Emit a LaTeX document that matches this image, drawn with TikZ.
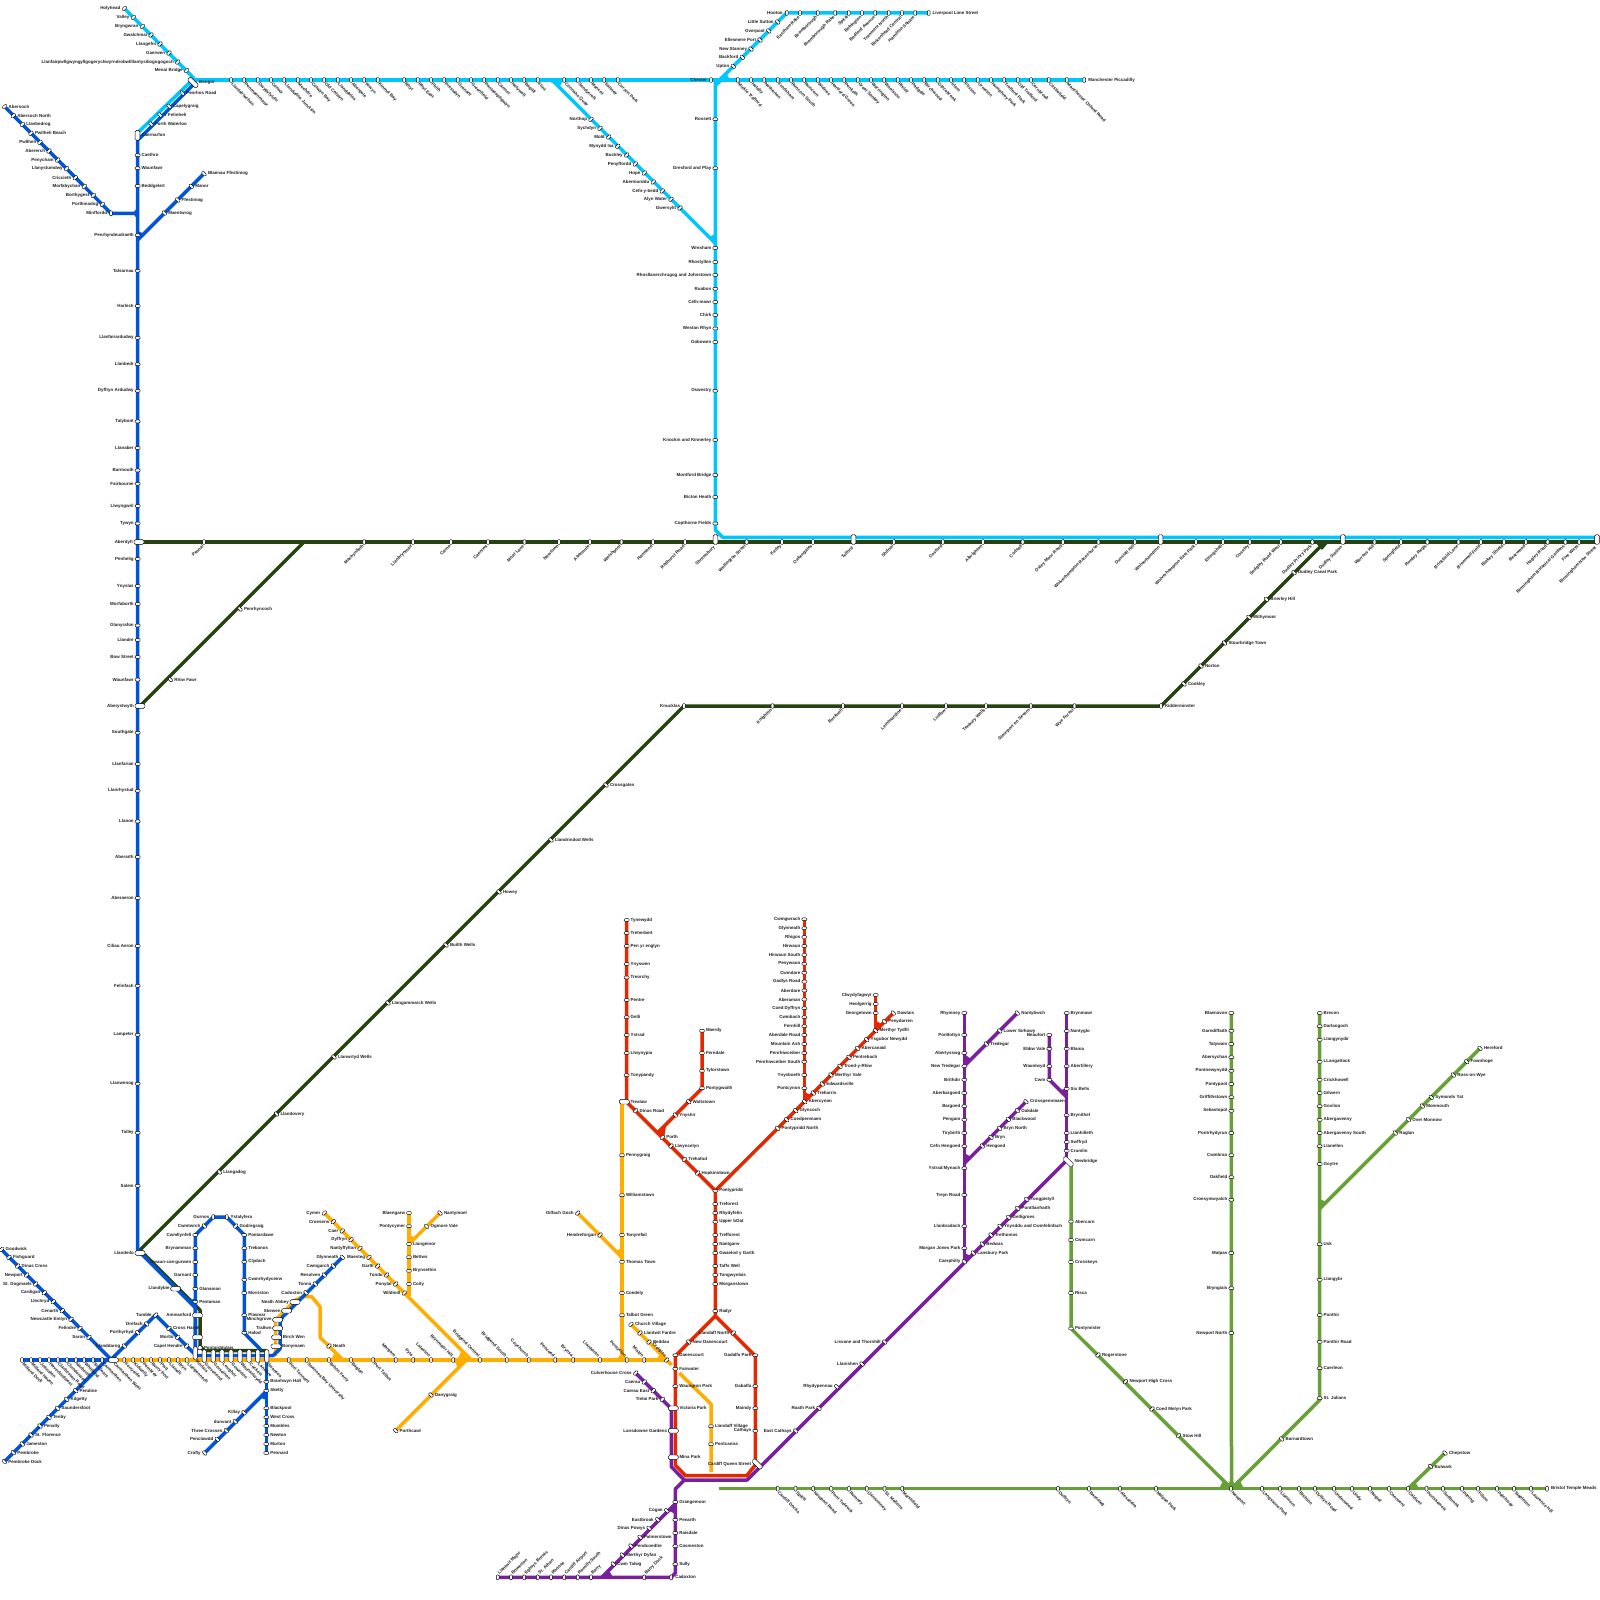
\documentclass[tikz,border=0pt]{standalone}
\usepackage{fontspec}
\setmainfont{Liberation Sans}
\definecolor{ccy}{HTML}{00C6FF}
\definecolor{cbl}{HTML}{0054D8}
\definecolor{cdg}{HTML}{254210}
\definecolor{cor}{HTML}{FFAD00}
\definecolor{cre}{HTML}{E62800}
\definecolor{cpu}{HTML}{7A209E}
\definecolor{cgr}{HTML}{68A038}
\tikzset{
 lne/.style={line width=3.5pt,line join=round,line cap=butt},
 cy/.style={lne,draw=ccy},bl/.style={lne,draw=cbl},dg/.style={lne,draw=cdg},
 or/.style={lne,draw=cor},re/.style={lne,draw=cre},pu/.style={lne,draw=cpu},gr/.style={lne,draw=cgr},
 stb/.style={draw=black,fill=white,line width=.45pt,rounded corners=1pt,inner sep=0pt},
 sh/.style={stb,minimum width=5pt,minimum height=2.8pt},
 sv/.style={stb,minimum width=2.8pt,minimum height=5pt},
 sb/.style={sh,rotate=45},
 sf/.style={sh,rotate=-45},
 Bh/.style={stb,minimum width=10pt,minimum height=4.6pt,rounded corners=1.5pt},
 Bv/.style={stb,minimum width=4.6pt,minimum height=10pt,rounded corners=1.5pt},
 Bb/.style={Bh,rotate=45,minimum width=12pt},
 Bf/.style={Bh,rotate=-45,minimum width=12pt},
 Tv/.style={stb,minimum width=4.2pt,minimum height=13pt,rounded corners=1.5pt},
 lbl/.style={inner sep=0pt,font=\fontsize{4.45}{4.45}\selectfont\bfseries,text=black!88},
}
\newcount\stc
\newcommand\lbr[3]{\node[lbl,anchor=west] (t\the\stc) at (#1+3.8,#2) {#3};}
\newcommand\lbl[3]{\node[lbl,anchor=east] (t\the\stc) at (#1-3.8,#2) {#3};}
\newcommand\lbR[3]{\node[lbl,anchor=west] (t\the\stc) at (#1+6,#2) {#3};}
\newcommand\lbL[3]{\node[lbl,anchor=east] (t\the\stc) at (#1-6,#2) {#3};}
\newcommand\lbdr[3]{\node[lbl,anchor=west,rotate=-45] (t\the\stc) at (#1+1,#2+3.4) {#3};}
\newcommand\lbul[3]{\node[lbl,anchor=east,rotate=-45] (t\the\stc) at (#1-1,#2-3.4) {#3};}
\newcommand\lbdl[3]{\node[lbl,anchor=east,rotate=45] (t\the\stc) at (#1-1,#2+3.4) {#3};}
\newcommand\lbur[3]{\node[lbl,anchor=west,rotate=45] (t\the\stc) at (#1+1,#2-3.4) {#3};}
\newcommand\lbt[3]{\node[lbl,anchor=west,rotate=-45] (t\the\stc) at (#1+1,#2+7.5) {#3};}
\newcommand\lbn[3]{\node[lbl,anchor=east,rotate=45] (t\the\stc) at (#1-1,#2+7.5) {#3};}
\newcommand\stn[5]{\global\advance\stc by 1\relax
 \node[#1] (s\the\stc) at (#2,#3) {};
 \csname lb#4\endcsname{#2}{#3}{#5}}
\newcommand\row[3]{\foreach \xx/\yy/\lab in {#3}{\stn{#1}{\xx}{\yy}{#2}{\lab}}}
\newcommand\wdg[4]{\fill[#1] #2 -- #3 -- #4 -- cycle;}
\begin{document}
\begin{tikzpicture}[x=1pt,y=-1pt]
\useasboundingbox (0,0) rectangle (1600,1600);
\fill[white] (0,0) rectangle (1600,1600);
% ---- way points
\foreach \n/\a/\b in {
 hly/124.3/8.3,bng/194/78.5,cy1/138.5/132,bnw/193/80,mnc/1084.3/80,cjn/719.7/80,hoo/786.7/13,lls/928.7/13,
 wj/552/80,wrx/715.3/243.3,chv/715.3/80,cyc/715.3/530,cyd/722.6/537.3,cye/1597/537.3,
 bb1/193/85,bb2/143/135,bb3/137.7/140,bb4/137.7/1250,bb5/195.3/1307.6,bb6/195.3/1356,
 lp1/195.3/1235,lp2/213.3/1217,lp3/226.7/1217,lp4/244.3/1235,lp5/244.3/1333,lp6/261/1350,
 bh1/195.3/1355.5,bh2/273/1355.5,bh3/280/1349,bh4/280/1322,bh5/282.5/1317,bh6/342.3/1257.3,
 abs/4.7/106.7,mff/111/213.3,mfj/137.7/213.3,bpj/137.7/240,bla/204/173.7,
 gdw/1/1249,gdj/111.7/1360,mil/22/1360,cmw/113.3/1360,pbd/4.3/1461.7,pbj/106.4/1360,
 tuj/110.5/1360,tum/155.7/1315,tue/195.3/1354.6,swj/266.3/1356,pen/266.3/1453,cro/204.7/1453,skt/266.3/1391.4,
 aby/138/542,bhm/1597/542,dj1/304/542,ayw/140/706,kid/1161/706,dj2/1322/545,dj3/1326/542,knu/684/706,
 lld/140/1250,dg1/197/1307,dg2/200/1310,dg3/200/1346,dg4/204/1350.5,dg5/266.7/1350.5,
 ormr/668/1360,orb/631/1324.3,ore/671.7/1365,orc/679.3/1373,ord/711/1404,orf/711/1472,
 trv/622/1101.7,trw/622/1360,gil/577.7/1213,gij/622/1257.3,cym/324.3/1213,brd/471.3/1360,
 bga/409/1213,bgb/409/1296,nan/440/1213,nnj/409/1244,pcw/395.7/1430.7,pcj/466.4/1360,
 ne1/275.7/1356,ne2/275.7/1320,ne3/296/1299.7,ne4/303.3/1296.7,ne5/311.7/1296.7,ne6/320/1306.7,ne7/320/1337.3,ne8/343/1360,
 r1/626.7/920,r2/626.7/1102,r3/715.3/1190.6,r4/715.3/1316,r5/675.3/1356,r6/675.3/1465,r7/685.5/1475.7,r8/746.7/1475.7,r9/755.3/1465,r10/755.3/1356,
 f1/702/1030.7,f2/702/1088.3,f3/657.7/1132.7,dow/893.3/1013,abv/804.3/919.3,abj/804.3/1102,cly/875.7/995,mrt/875.7/1030.7,
 p1/635.7/1373,p2/671.3/1408.6,p3/671.3/1466.7,p4/684.3/1480,p5/747/1480,p6/1065.5/1161.5,
 p7/675.3/1489,p8/675.3/1573,p9/671.3/1577.3,p10/497.7/1577.3,p11/601.7/1577.3,p12/675.3/1503.7,
 ry1/964.3/1013,ry2/964.3/1263,ry3/1017.3/1013,ry4/966/1064.3,ry5/1026/1101.7,ry6/964.3/1163.4,
 ew1/1049.3/1035,ew2/1049.3/1079.7,ew3/1066.7/1097,ew4/1066.7/1013,ew5/1066.7/1161,
 g1/1071/1165,g2/1071/1328.5,g3/1231.5/1488.7,g4/719.4/1488.7,g5/1547/1488.7,g6/1231.3/1013,g7/1319.7/1013,g8/1319.7/1400,
 g9/1480/1048.3,g10/1319.7/1208.6,g11/1408/1488.7,g12/1445/1453}
 {\coordinate (\n) at (\a,\b);}
% ---- lines
\draw[dg] (aby)--(bhm);
\draw[dg] (dj1)--(ayw);
\draw[dg] (knu)--(kid)--(dj2)--(dj3);
\draw[dg] (knu)--(lld)--(dg1)--(dg2)--(dg3)--(dg4)--(dg5);
\draw[cy] (hly)--(bng)--(cy1);
\draw[cy] (bnw)--(mnc);
\draw[cy] (cjn)--(hoo)--(lls);
\draw[cy] (wj)--(wrx);
\draw[cy] (chv)--(cyc)--(cyd)--(cye);
\draw[gr] (g1)--(g2)--(g3);
\draw[gr] (g4)--(g5);
\draw[gr] (g6)--(g3);
\draw[gr] (g7)--(g8)--(g3);
\draw[gr] (g9)--(g10);
\draw[gr] (g11)--(g12);
\draw[or] (cmw)--(ormr);
\draw[or] (orb)--(ore);
\draw[or] (orc)--(ord)--(orf);
\draw[or] (trv)--(trw);
\draw[or] (gil)--(gij);
\draw[or] (cym)--(brd);
\draw[or] (bga)--(bgb);
\draw[or] (nan)--(nnj);
\draw[or] (pcw)--(pcj);
\draw[or] (ne1)--(ne2)--(ne3)--(ne4)--(ne5)--(ne6)--(ne7)--(ne8);
\draw[bl] (bb1)--(bb2)--(bb3)--(bb4)--(bb5)--(bb6);
\draw[bl] (bb6)--(lp1)--(lp2)--(lp3)--(lp4)--(lp5)--(lp6);
\draw[bl] (bh1)--(bh2)--(bh3)--(bh4)--(bh5)--(bh6);
\draw[bl] (abs)--(mff)--(mfj);
\draw[bl] (bpj)--(bla);
\draw[bl] (gdw)--(gdj);
\draw[bl] (mil)--(cmw);
\draw[bl] (pbd)--(pbj);
\draw[bl] (tuj)--(tum)--(tue);
\draw[bl] (swj)--(pen);
\draw[bl] (cro)--(skt);
\draw[pu] (p1)--(p2)--(p3)--(p4)--(p5)--(p6);
\draw[pu] (p4)--(p7)--(p8)--(p9)--(p10);
\draw[pu] (p11)--(p12);
\draw[pu] (ry1)--(ry2);
\draw[pu] (ry3)--(ry4);
\draw[pu] (ry5)--(ry6);
\draw[pu] (ew1)--(ew2)--(ew3);
\draw[pu] (ew4)--(ew5);
\draw[re] (r1)--(r2)--(r3)--(r4)--(r5)--(r6)--(r7)--(r8)--(r9)--(r10)--(r4);
\draw[re] (f1)--(f2)--(f3);
\draw[re] (r3)--(dow);
\draw[re] (abv)--(abj);
\draw[re] (cly)--(mrt);
% ---- junction wedges
\wdg{cbl}{(133,213.3)}{(137.7,207)}{(137.7,219.5)}
\wdg{cbl}{(137.7,240)}{(137.7,231)}{(144,233.7)}
\wdg{cbl}{(195.3,1307.6)}{(195.3,1298)}{(189,1301)}
\wdg{cbl}{(266.3,1391.4)}{(266.3,1400)}{(260,1397.5)}
\wdg{cor}{(343,1360)}{(331,1360)}{(335,1352)}
\wdg{cor}{(469,1360)}{(457,1360)}{(461,1352)}
\wdg{cor}{(466,1360)}{(454,1360)}{(458,1368)}
\wdg{cor}{(409,1244)}{(409,1235)}{(415.5,1237.5)}
\wdg{cor}{(622,1257.3)}{(622,1248)}{(615.5,1251)}
\wdg{cor}{(616,1360)}{(622,1353)}{(628,1360)}
\wdg{cor}{(667,1360)}{(656,1360)}{(660,1354)}
\wdg{ccy}{(715.3,243.3)}{(715.3,234)}{(709,237)}
\wdg{ccy}{(719.7,80)}{(730,80)}{(726.5,73.5)}
\wdg{ccy}{(715,80)}{(715,88)}{(724,80)}
\wdg{ccy}{(552,80)}{(563,80)}{(559.5,87)}
\wdg{ccy}{(545,80)}{(560,80)}{(555,84)}
\wdg{cre}{(657,1131)}{(666,1126)}{(664,1139)}
\wdg{cre}{(804.3,1102)}{(804.3,1092)}{(811,1095)}
\wdg{cre}{(875.7,1030.7)}{(875.7,1021)}{(882,1024)}
\wdg{cpu}{(964.3,1064)}{(964.3,1054)}{(971,1059)}
\wdg{cpu}{(964.3,1163.4)}{(964.3,1153)}{(971,1157)}
\wdg{cpu}{(964.3,1263)}{(964.3,1253)}{(971,1256)}
\wdg{cpu}{(1066.7,1097)}{(1066.7,1088)}{(1060,1090.5)}
\wdg{cpu}{(675.3,1503.7)}{(675.3,1514)}{(668.5,1510.5)}
\wdg{cpu}{(601.7,1577.3)}{(613,1577.3)}{(609,1570.5)}
\wdg{cgr}{(1319.7,1208.6)}{(1319.7,1199)}{(1326.5,1202)}
\wdg{cgr}{(1231.3,1488.7)}{(1219,1488.7)}{(1223,1481)}
\wdg{cgr}{(1231.3,1488.7)}{(1244,1488.7)}{(1240,1481)}
\wdg{cgr}{(1231.3,1479)}{(1225,1488.7)}{(1238,1488.7)}
\wdg{cgr}{(1408,1488.7)}{(1419,1488.7)}{(1415,1481.5)}
\wdg{cdg}{(1315,542)}{(1329,542)}{(1322,550)}
% ---- stations: north coast
\row{sb}{l}{124.3/8.3/Holyhead,133.3/17.3/Valley,142.3/26.3/Bryngwran,151/35/Gwalchmai,160/44/Llangefni,169/53/Gaerwen,177.7/62/Llanfairpwllgwyngyllgogerychwyrndrobwllllantysiliogogogoch,186.7/70.7/Menai Bridge}
\stn{Bf}{193}{82.5}{R}{Bangor}
\row{sv}{dr}{231/80/Llanfairfechan,244.3/80/Penmaenmawr,257.7/80/Dwygyfylchi,271/80/Conwy,284.3/80/Llandudno Junction,297.7/80/Mochdre,311/80/Colwyn Bay,324.3/80/Old Colwyn,337.7/80/Llanddulas,351/80/Abergele,364.3/80/Towyn,377.7/80/Kinmel Bay,404.3/80/Rhyl,417.7/80/Rhyl East,431/80/Ffrith,444.3/80/Prestatyn,457.7/80/Gronant,471/80/Greenfield,484.3/80/Pantasaphgwyn,497.7/80/Carmel,511/80/Holywell,524.3/80/Bagillt,537.7/80/Flint,564.3/80/Connahs Quay,577.7/80/Sandycroft,591/80/Mancot,604.3/80/Saltney,617.7/80/Curzon Park}
\stn{sv}{711}{80}{l}{Chester}
\row{sv}{dr}{737.7/80/Mickle Trafford,751/80/Helsby,764.3/80/Netherton,777.7/80/Frodsham,791/80/Runcorn South,804.3/80/Runcorn,817.7/80/Widnes,831/80/Hartford Green,844.3/80/Penketh,857.7/80/Great Sankey,871/80/Warrington,884.3/80/Woolston,897.7/80/Risley,911/80/Padgate,924.3/80/Birchwood,937.7/80/Glazebrook,951/80/Irlam,964.3/80/Flixton,977.7/80/Urmston,991/80/Humphrey Park,1004.3/80/Trafford Park,1017.7/80/Old Trafford,1031/80/Cornbrook,1048.7/80/Castlefield,1066.7/80/Manchester Oxford Road}
\stn{sv}{1084.3}{80}{r}{Manchester Piccadilly}
\stn{sv}{786.7}{13}{l}{Hooton}
\row{sf}{l}{777.7/22/Little Sutton,768.7/31/Overpool,760/40/Ellesmere Port,751/49/New Stanney,742.3/57.3/Backford,733.3/66.3/Upton}
\row{sv}{dl}{800/13/Eastham Rake,817.7/13/Bromborough,835.3/13/Bromborough Rake,848.7/13/Spital,862/13/Bebington,875.3/13/Bedford Avenue,888.7/13/Tranmere North,902/13/Birkenhead Central,915.3/13/Hamilton Square}
\stn{sv}{928.7}{13}{r}{Liverpool Lime Street}
\row{sb}{l}{591/119.3/Northop,600/128.3/Sychdyn,608.7/137/Mold,617.7/146.3/Mynydd Isa,626.7/155/Buckley,635.3/164/Penyffordd,644.3/173/Hope,653.3/182/Abermorddu,662.3/191/Cefn-y-bedd,671/199.3/Alyn Water,680/208/Gwersyllt}
\row{sh}{l}{715.3/119.3/Rossett,715.3/168.3/Gresford and Play,715.3/248/Wrexham,715.3/262/Rhostyllen,715.3/275/Rhosllanerchrugog and Johnstown,715.3/288.7/Ruabon,715.3/302/Cefn-mawr,715.3/315/Chirk,715.3/328.5/Weston Rhyn,715.3/342/Gobowen,715.3/390.8/Oswestry,715.3/440/Knockin and Kinnerley,715.3/475/Montford Bridge,715.3/497/Bicton Heath,715.3/523.5/Copthorne Fields}
% ---- Cardigan Bay
\row{sb}{r}{4.7/106.7/Abersoch,13.3/115.7/Abersoch North,22.3/124.3/Llanbedrog,31/133.3/Pwllheli Beach}
\row{sb}{l}{40/142.3/Pwllheli,49/151/Abererch,57.7/160/Penychain,66.7/168.7/Llanystumdwy,75.3/177.7/Criccieth,84.3/186.3/Morfabychan,93.3/195.3/Borthygest,102.3/204.3/Porthmadog}
\stn{sv}{111}{213.3}{l}{Minffordd}
\row{sf}{r}{182.3/93/Penrhos Road,169/106.3/Capelygraig,160/115/Y Felinheli,151/124/Porth Waterloo,204/173.7/Blaenau Ffestiniog,191.3/186.3/Manor,177.7/200/Ffestiniog,164.3/213/Maentwrog}
\stn{Bv}{137.5}{135.3}{r}{Caernarfon}
\row{sh}{r}{137.7/155.3/Caethro,137.7/168.3/Waunfawr,137.7/186/Beddgelert}
\row{sh}{l}{137.7/235.3/Penrhyndeudraeth,137.7/270.7/Talsarnau,137.7/306/Harlech,137.7/337.7/Llanfairardudwy,137.7/364.3/Llanbedr,137.7/390.8/Dyffryn Ardudwy,137.7/421.4/Talybont,137.7/448/Llanaber,137.7/470.4/Barmouth,137.7/483.7/Fairbourne,137.7/506/Llwyngwril,137.7/523.5/Tywyn,137.7/559/Penhelig,137.7/586/Ynyslas,137.7/604/Morfaborth,137.7/625.5/Glanyrafon,137.7/640/Llandre,137.7/657/Bow Street,137.7/679.6/Waunfawr,137.7/732.7/Southgate,137.7/764/Llanfarian,137.7/790.8/Llanrhystud,137.7/821.4/Llanon,137.7/857/Aberarth,137.7/898/Aberaeron,137.7/946/Ciliau Aeron,137.7/985.7/Felinfach,137.7/1034.7/Lampeter,137.7/1083.7/Llanwenog,137.7/1132.7/Talley,137.7/1185.7/Salem}
\stn{Bh}{139}{542}{L}{Aberdyfi}
\stn{Bh}{140}{706}{L}{Aberystwyth}
\stn{Bh}{140}{1253}{L}{Llandeilo}
\row{sf}{r}{240/609/Penrhyncoch,170.4/679.6/Rhiw Fawr}
% ---- Dark green main
\row{sv}{dl}{204/542/Pennal,364.3/542/Machynlleth,413/542/Llanbrynmair,451/542/Carno,488/542/Caersws,524.5/542/Moat Lane,559/542/Newtown,590/542/Abermule,621.5/542/Welshpool,653/542/Hanwood,685/542/Redhurst Road,746.6/542/Wellington Street,782/542/Ketley,813/542/Oakengates,893.8/542/Shifnal,942.7/542/Cosford,983/542/Albrighton,1022.6/542/Codsall,1062.9/542/Oxley Moor Road,1098.5/542/Wolverhampton Racecourse,1134.7/542/Dunstall Hill,1196/542/Wolverhampton East Park,1223/542/Ettingshall,1249.7/542/Coseley,1280.8/542/Sedgley Road West,1312.4/542/Dudley Priory Park,1374.5/542/Warrens Hill,1401/542/Springfield,1427.4/542/Rowley Regis,1458.5/542/Brickfield Lane,1480.9/542/Bromwell Field,1504/542/Blakey Shield,1525.8/542/Bearwood,1547.6/542/Hagley Road,1565.4/542/Birmingham Botanical Gardens,1579.2/542/Five Ways}
\row{Bv}{n}{715.5/539.5/Shrewsbury,853.5/539.5/Telford,1160.6/539.5/Wolverhampton,1342.9/539.5/Dudley Station,1597/539.5/Birmingham New Street}
\row{sf}{r}{1294/572.7/Dudley Canal Park,1266.4/599.3/Brierley Hill,1249/617.3/Withymoor,1224.5/643/Stourbridge Town,1201/666/Norton,1184/684/Cookley}
\stn{sv}{1161}{706}{r}{Kidderminster}
\stn{sv}{684}{706}{l}{Knucklas}
\row{sv}{dl}{772.5/706/Knighton,843/706/Bucknell,902/706/Leintwardine,946/706/Ludlow,986/706/Tenbury Wells,1030.7/706/Stourport on Severn,1074.5/706/Wye Forest}
\row{sf}{r}{606/785/Crossgates,551/840/Llandrindod Wells,499/892/Howey,446/945/Builth Wells,388/1003/Llangammarch Wells,334/1057/Llanwrtyd Wells,276.5/1114/Llandovery,219.4/1172/Llangadog}
% ---- Pembrokeshire & Carmarthen
\row{sb}{r}{1.7/1249.3/Goodwick,9/1257.3/Fishguard,17.7/1266/Dinas Cross}
\row{sb}{l}{26.7/1275/Newport,35.7/1284/St. Dogmaels,44.3/1292.7/Cardigan,53.3/1301.7/Llechryd,62.3/1310.7/Cenarth,71/1319.3/Newcastle Emlyn,80/1328.3/Felindre,89/1337.3/Saron}
\row{sf}{r}{75.7/1390.7/Pendine,66.7/1399.3/Kilgetty,57.7/1408.3/Saundersfoot,49/1417.3/Tenby,40/1426/Penally,31/1435/St. Florence,22.3/1444/Jameston,13.3/1452.7/Pembroke,4.3/1461.7/Pembroke Dock}
\row{sf}{l}{124.3/1346/Llanddarog,137.7/1332.7/Porthyrhyd,146.7/1324/Drefach}
\stn{sb}{155.7}{1315}{l}{Tumble}
\stn{sb}{169}{1328.3}{r}{Cross Hands}
\row{sb}{l}{177.7/1337.3/Mortlo,186.7/1346/Capel Hendre}
\row{sv}{dr}{22/1360/Milford Dock,31/1360/Milford Haven,40/1360/Johnston,49/1360/Haverfordwest,57.7/1360/Clarbeston Road,66.7/1360/Clunderwen,75.7/1360/Narberth,84.3/1360/Whitland,93.3/1360/St Clears,102.3/1360/Carmarthen}
\stn{Bh}{113.3}{1360}{dr}{Carmarthen West}
\row{sv}{dr}{124.3/1360/Ferryside,133.3/1360/Kidwelly,142.3/1360/Pembrey,151/1360/Burry Port,160/1360/Pwll,169/1360/Llanelli,177.7/1360/Bryn,186.7/1360/Llangennech}
\row{Tv}{t}{195.3/1353/Morlais,204.3/1356/Grovesend,213.3/1356/Gorseinon,222/1356/Loughor,231/1356/Gowerton,240/1356/Waunarlwydd,249/1356/Cockett,257.7/1356/Landore,266.7/1356/Swansea}
\stn{Bh}{197.5}{1315.3}{L}{Ammanford}
\node[Bh] (amx) at (197.5,1337.3) {};
\stn{Bh}{175.7}{1288.7}{L}{Llandybie}
\stn{stb,minimum width=4pt,minimum height=4pt}{200}{1347.7}{r}{Pontarddulais}
\row{sh}{r}{195.3/1288.7/Glanaman,195.3/1301.7/Pentaman,244.3/1235/Pontardawe,244.3/1248.3/Trebanos,244.3/1261.7/Clydach,244.3/1279.7/Cwmrhydyceirw,244.3/1293/Morriston,244.3/1315.3/Plasmar,244.3/1332.7/Hafod}
\row{sh}{l}{195.3/1235/Cwmllynfell,195.3/1248.3/Brynamman,195.3/1262/Gwaun-cae-gurwen,195.3/1275/Garnant}
\stn{sf}{204.3}{1226}{l}{Cwmtwrch}
\stn{sv}{213.3}{1217}{l}{Gurnos}
\stn{sv}{226.7}{1217}{r}{Ystalyfera}
\stn{sb}{235.7}{1226}{r}{Godregraig}
\row{sf}{l}{342.3/1257.3/Glynneath,333.3/1266/Cwmgarch,324.3/1275/Resolven,315.3/1284/Tonna,306/1292.7/Cadoxton}
\row{Bh}{L}{295/1302/Neath Abbey,286.7/1310.7/Skewen,277.7/1319.7/Minchgrove,277.7/1328.3/Trallwn}
\row{Bh}{R}{276.7/1337.3/Birch Wen,276/1346.3/Bonymaen}
\row{sh}{r}{266.3/1381.7/Branhwyn Hall,266.3/1390.7/Sketty,266.3/1408.3/Blackpool,266.3/1417.3/West Cross,266.3/1426/Mumbles,266.3/1435/Newton,266.3/1444/Murton,266.3/1453/Pennard}
\row{sf}{l}{244/1412.7/Killay,235.3/1421.7/dunvant,226.3/1430.7/Three Crosses,217.3/1439.3/Penclawdd,204.7/1453/Crofty}
\row{sv}{dr}{288.7/1360/Port Tennant,306.7/1360/Swansea Bay University,329/1360/Briton Ferry,351/1360/Baglan,373.3/1360/Port Talbot}
\stn{sb}{329}{1346}{r}{Neath}
\row{sv}{ul}{395.7/1360/Margam,413.3/1360/Pyle,431/1360/Laleston,453.3/1360/Brynmawr Hill,480/1360/Bridgend Central,506.7/1360/Bridgend South,528.7/1360/Coychurch,555.3/1360/Pencoed,573.3/1360/Brynsa,600/1360/Llanharan,626.7/1360/Pontyclun,644.3/1360/Miskin}
\stn{sb}{666.7}{1360}{ul}{Creigiau}
\row{sb}{r}{631/1324.3/Church Village,640/1333/Llantwit Fardre,649/1342/Beddau}
\row{sb}{l}{324.3/1213/Cymer,333.3/1221.7/Croeserw,342.3/1231/Caer,351/1239.7/Dyffryn,360/1248.3/Nantyffyllon,369/1257.3/Maesteg,377.7/1266/Garth,386.7/1275/Tondu,395.7/1284/Ponytal,404.3/1293/Wildmill}
\row{sh}{l}{409/1213/Blaengarw,409/1226.3/Pontycymer}
\row{sh}{r}{409/1244/Llangeinor,409/1257.3/Bettws,409/1270.7/Brynsethin,409/1284/Coity}
\row{sf}{r}{440/1213/Nantymoel,426.7/1226.3/Ogmore Vale,431/1395/Danygraig,395.7/1430.7/Porthcawl}
\row{sb}{l}{577.7/1213/Gilfach Goch,600/1235/Hendreforgan}
\stn{Bh}{624.3}{1101.7}{R}{Trealaw}
\row{sh}{r}{622/1155.3/Pennygraig,622/1195.3/Williamstown,622/1235/Tonyrefail,622/1261.7/Thomas Town,622/1293/Coedely,622/1315.3/Talbot Green}
\row{sh}{r}{711/1426.3/Llandaff Village,711/1444.3/Pontcanna}
% ---- Red
\row{sh}{r}{626.7/920/Tynewydd,626.7/933/Treherbert,626.7/946/Pen yr englyn,626.7/964/Ynyswen,626.7/977.5/Treorchy,626.7/1000/Pentre,626.7/1017.3/Gelli,626.7/1035/Ystrad,626.7/1053/Llwynypia,626.7/1075.3/Tonypandy}
\row{sb}{r}{635.7/1110.7/Dinas Road,662.3/1137.3/Porth,671/1146/Llwyncelyn,684.3/1159.3/Trehafod,697.7/1173/Hopkinstown}
\row{sh}{r}{702/1030.7/Maerdy,702/1053/Ferndale,702/1070.7/Tylorstown,702/1088.3/Pontygwaith,715.3/1190.7/Pontypridd,715.3/1204/Treforest,715.3/1213/Rhydyfelin,715.3/1221.7/Upper bOat,715.3/1235/Trefforest,715.3/1244/Nantgarw,715.3/1253/Gwaelod y Garth,715.3/1266/Taffs Well,715.3/1275/Tongwynlais,715.3/1284/Morganstown,715.3/1311/Radyr}
\row{sf}{r}{688.7/1101.7/Wattstown,675.3/1115/Ynyshir,777.7/1128.3/Pontypridd North,786.7/1119.7/Coedpenmaen,795.7/1110.7/Glyncoch,804.7/1101.7/Abercynon,813.3/1093/Treharris,822.3/1084/Edwardsville,831/1075/Merthyr Vale,840/1066.3/Troed-y-Rhiw,849/1057.3/Pentrebach,857.7/1048.3/Abercanaid,866.7/1039.7/Ysgubor Newydd,875.7/1030.7/Merthyr Tydfil,884.3/1021.7/Penydarren,893.3/1013/Dowlais}
\row{sh}{l}{804.3/919.3/Cwmgwrach,804.3/928.2/Glynneath,804.3/937.1/Rhigos,804.3/946/Hirwaun,804.3/954.9/Hirwaun South,804.3/963.8/Penywaun,804.3/972.7/Cwmdare,804.3/981.6/Gadlys Road,804.3/990.5/Aberdare,804.3/999.4/Aberaman,804.3/1008.3/Coed Dyffryn,804.3/1017.3/Cwmbach,804.3/1026.3/Fernhill,804.3/1035/Aberdale Road,804.3/1044/Mountain Ash,804.3/1053/Penrhiwceiber,804.3/1061.7/Penrhiwceiber South,804.3/1075/Ynysboeth,804.3/1088.3/Pontcynon,875.7/995/Clwydyfagwyr,875.7/1004/Heolgerrig,875.7/1013/Georgetown}
\stn{sf}{688.7}{1342}{r}{New Danescourt}
\stn{sb}{733.3}{1333}{l}{Llandaff North}
\row{sh}{r}{675.3/1355.3/Danescourt,675.3/1368.7/Fairwater,675.3/1386.3/Waungron Park}
\row{sh}{l}{755.3/1355.3/Gadalfa Park,755.3/1386.3/Gabalfa,755.3/1408.3/Maindy,755.3/1430.7/Cathays}
\row{Bh}{R}{673.3/1408.3/Victoria Park,673.3/1457.3/Mina Park}
\stn{Bh}{673.3}{1430.7}{L}{Lansdowne Gardens}
\stn{Bf}{757.3}{1464}{L}{Cardiff Queen Street}
% ---- Purple
\row{sb}{l}{635.7/1373/Culverhouse Cross,644.3/1382/Caerau,653.3/1390.7/Caerau East,662.3/1399.3/Trelai Park}
\row{sf}{l}{884.7/1342/Lisvane and Thornhill,862/1364/Llanishen,836.7/1386.7/Rhydypennau,819/1408.3/Roath Park,795.7/1431/East Cathays,666.7/1510.7/Cogan,657.7/1519.7/Eastbrook,649/1528.3/Dinas Powys}
\row{sf}{r}{640/1537.3/Palmerstown,631/1546/Pendcoedtre,622.3/1555/Merthyr Dyfan,613.3/1564/Cwm Talwg}
\row{sh}{r}{675.3/1502/Grangemoor,675.3/1519.7/Penarth,675.3/1533/Raisdale,675.3/1546.3/Cosmeston,675.3/1564.3/Sully}
\stn{sv}{671.3}{1577.3}{r}{Cadoxton}
\row{sv}{ur}{497.7/1577.3/Llantwit Major,511/1577.3/Bowerton,524.3/1577.3/Eglwys Brewis,537.7/1577.3/St. Athan,551/1577.3/Rhoose,564.3/1577.3/Cardiff Airport,577.7/1577.3/Romilly South,591/1577.3/Barry,644.3/1577.3/Barry Dock}
\row{sh}{l}{964.3/1013/Rhymney,964.3/1035/Pontlottyn,964.3/1053/Abertysswg,964.3/1066.3/New Tredegar,964.3/1079.7/Brithdir,964.3/1093/Aberbargoed,964.3/1106.3/Bargoed,964.3/1119.7/Pengam,964.3/1133/Tirybirth,964.3/1146.3/Cefn Hengoed,964.3/1168.3/Ystrad Mynach,964.3/1195/Treyn Road,964.3/1226.3/Llanbradach,964.3/1248.3/Morgan Jones Park}
\stn{sf}{964.3}{1261.7}{l}{Caerphilly}
\row{sf}{r}{1017.3/1013/Nantybwch,999.7/1031/Lower Sirhowy,986.3/1044/Tredegar,1026/1101.7/Crosspennmaen,1017.3/1110.7/Oakdale,1008.3/1119.3/Blackwood,999.7/1128.3/Bryn North,991/1137.3/Bryn,982.3/1146/Hengoed,1026.7/1199.3/Tongpistyll,1017.7/1208.3/Pontllanfraith,1008.7/1217.3/Gelligroes,1000/1226.3/Ynysddu and Cwmfelinfach,991/1235/Trethomas,982.3/1244/Bedwas,973.3/1253/Lansbury Park}
\row{sh}{l}{1049.3/1035/Beaufort,1049.3/1048.7/Ebbw Vale,1049.3/1066.3/Waunlwyd,1049.3/1079.7/Cwm}
\row{sh}{r}{1066.7/1013/Brynmawr,1066.7/1031/Nantyglo,1066.7/1048.7/Blaina,1066.7/1066.3/Abertillery,1066.7/1088.7/Six Bells,1066.7/1115.3/Brynithel,1066.7/1133/Llanhilleth,1066.7/1142/Swffryd,1066.7/1150.7/Crumlin}
\stn{Bf}{1068.3}{1161.7}{R}{Newbridge}
% ---- Green
\row{sh}{r}{1071/1221.5/Abercarn,1071/1240/Cwmcarn,1071/1262/Crosskeys,1071/1293/Risca,1071/1328.5/Pontymister}
\row{sb}{r}{1098/1355/Rogerstone,1125.5/1381.7/Newport High Cross,1152/1409/Coed Melyn Park,1178.6/1435.7/Stow Hill}
\row{sh}{l}{1231.3/1013/Blaenavon,1231.3/1030.7/Garndiffaith,1231.3/1044/Talywain,1231.3/1057.3/Abersychan,1231.3/1070.7/Pontnewynydd,1231.3/1084/Pontypool,1231.3/1097.3/Griffithstown,1231.3/1110.7/Sebastopol,1231.3/1133/Pontrhydyrun,1231.3/1155.3/Cwmbran,1231.3/1177.3/Oakfield,1231.3/1199.7/Croesymwyalch,1231.3/1253/Malpas,1231.3/1288.3/Bryngiais,1231.3/1333/Newport North}
\row{sh}{r}{1319.7/1013/Brecon,1319.7/1026.3/Darlangoch,1319.7/1039.7/Llangynydir,1319.7/1061.7/LLangattock,1319.7/1079.7/Crickhowell,1319.7/1093/Gilwern,1319.7/1106.3/Govilon,1319.7/1119.7/Abergavenny,1319.7/1133/Abergavenny South,1319.7/1146.3/Llanellen,1319.7/1164/Goytre,1319.7/1244.3/Usk,1319.7/1279.7/Llangybi,1319.7/1315/Ponthir,1319.7/1341.7/Ponthir Road,1319.7/1368.3/Caerleon,1319.7/1398.3/St. Julians}
\row{sf}{r}{1480/1048.3/Hereford,1466.7/1061.7/Fownhope,1453.3/1075/Ross-on-Wye,1431.3/1097.3/Symonds Yat,1422.3/1106/Monmouth,1408.3/1119.7/Over Monnow,1395.3/1133/Raglan,1281.6/1439/Barnardtown,1445/1453/Chepstow,1430.6/1466.4/Bulwark}
\row{sv}{dr}{777.7/1488.7/Cardiff Docks,795.5/1488.7/Splott,813.3/1488.7/Newport Road,831.1/1488.7/Pont Trelewis,848.9/1488.7/Rumney,866.7/1488.7/Llanrumney,884.5/1488.7/St. Mellons,902.3/1488.7/Marshfield,1058/1488.7/Duffryn,1089/1488.7/Bassaleg,1120/1488.7/Alexandra,1156/1488.7/Malpas Park,1231/1488.7/Newport,1262/1488.7/Langstone Park,1280/1488.7/Llanwern,1299/1488.7/Bishton,1315/1488.7/Dyffryn Road,1334/1488.7/Underwood,1352/1488.7/Undy,1370/1488.7/Rogiet,1389/1488.7/Caerwent,1408/1488.7/Caldicot,1426.5/1488.7/Portskewett,1443/1488.7/Sudbrook,1462/1488.7/Pilning,1478/1488.7/Filton,1497/1488.7/Patchway,1514/1488.7/Stapleton,1531/1488.7/Lawrence Hill}
\stn{sv}{1547}{1488.7}{r}{Bristol Temple Meads}
\end{tikzpicture}
\end{document}
